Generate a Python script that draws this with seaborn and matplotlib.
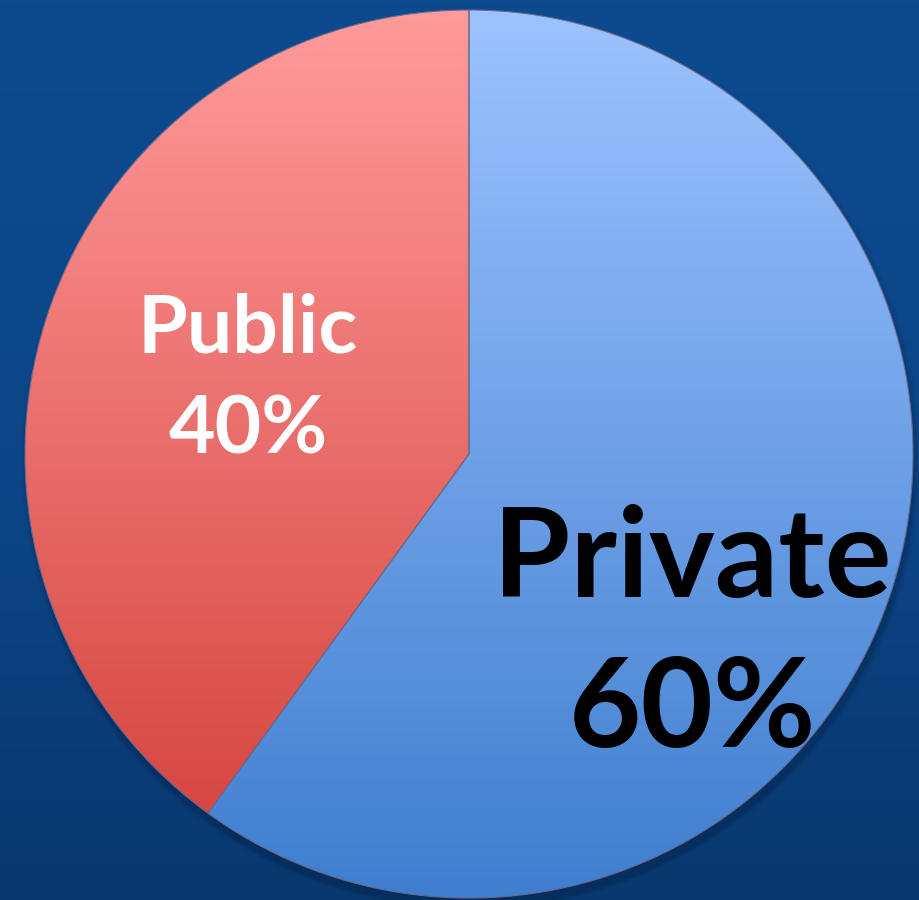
import matplotlib
matplotlib.use("Agg")
from matplotlib import pyplot as plt
from matplotlib.patches import Circle
import numpy as np
import seaborn as sns

# chart data
sectors = ["Private", "Public"]
shares = [60, 40]
top_colors = ["#9DC3FF", "#FF9B9B"]
bottom_colors = ["#3F7ECF", "#D23E38"]
text_colors = ["black", "white"]

sns.set_theme(style="white")
plt.rcParams["font.family"] = ["Lato", "DejaVu Sans"]

W, H = 919, 900
fig = plt.figure(figsize=(W / 100, H / 100), dpi=100)
ax = fig.add_axes([0, 0, 1, 1])
ax.set_xlim(0, W)
ax.set_ylim(0, H)
ax.set_aspect("equal")
ax.axis("off")

# background: dark blue, slightly darker towards the bottom
bg_cmap = sns.blend_palette(["#09386E", "#0C4689", "#0D4A8E"], n_colors=256, as_cmap=True)
bg = np.linspace(0, 1, 256).reshape(-1, 1)
ax.imshow(bg, cmap=bg_cmap, extent=(0, W, 0, H), origin="lower", aspect="auto", zorder=0)

cx, cy, r = 469, 446, 444

# soft shadow under the pie
for k, a in enumerate([0.05, 0.07, 0.09, 0.12]):
    ax.add_patch(Circle((cx + 2, cy - 6 - k), r + 6 - 2 * k, color="#021a3a", alpha=a, lw=0, zorder=1))

wedges, _ = ax.pie(shares, center=(cx, cy), radius=r, startangle=90, counterclock=False,
                   colors=top_colors, wedgeprops=dict(linewidth=0.8, edgecolor="#6a6a8a"),
                   frame=True)
ax.set_xlim(0, W)
ax.set_ylim(0, H)
ax.axis("off")

grad = np.linspace(0, 1, 256).reshape(-1, 1)
for w, c_top, c_bot in zip(wedges, top_colors, bottom_colors):
    w.set_zorder(3)
    w.set_facecolor("none")
    cmap = sns.blend_palette([c_bot, c_top], n_colors=256, as_cmap=True)
    im = ax.imshow(grad, cmap=cmap, extent=(cx - r, cx + r, cy - r, cy + r),
                   origin="lower", aspect="auto", zorder=2)
    im.set_clip_path(w)

# labels
ax.text(248, H - 380, f"{sectors[1]}\n{shares[1]}%", ha="center", va="center",
        color=text_colors[1], fontsize=58, fontweight="bold", linespacing=1.45, zorder=4)
ax.text(692, H - 636, f"{sectors[0]}\n{shares[0]}%", ha="center", va="center",
        color=text_colors[0], fontsize=90, fontweight="bold", linespacing=1.38, zorder=4)

fig.savefig("out.png", dpi=100)
